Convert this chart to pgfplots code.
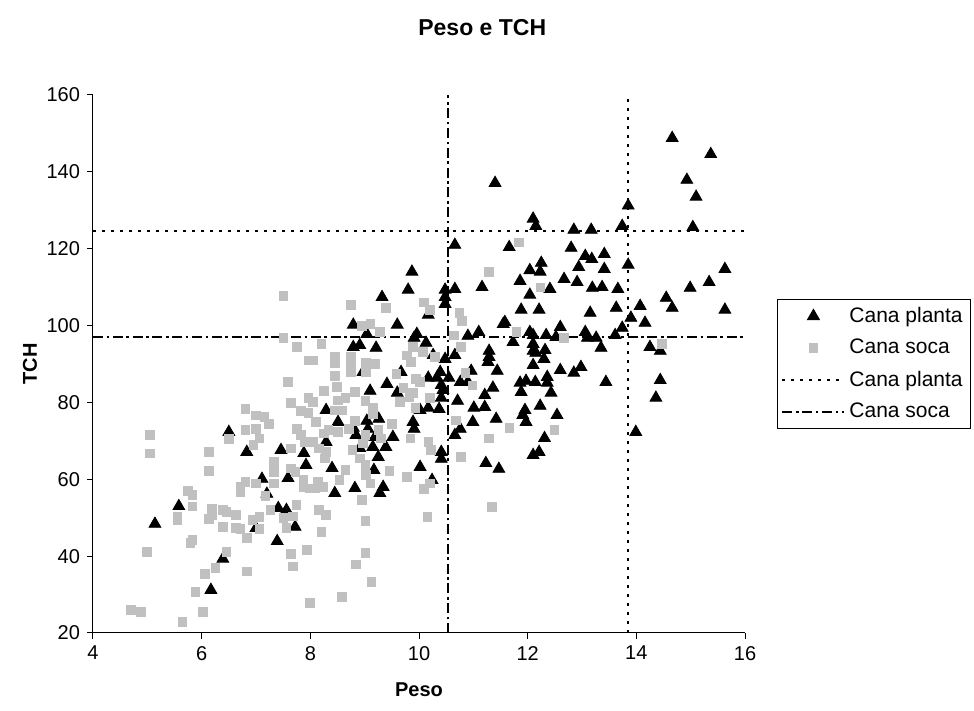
\documentclass[border=0pt]{standalone}
\usepackage{fontspec}
\setmainfont{Liberation Sans}
\usepackage{pgfplots}
\pgfplotsset{compat=1.18}
\definecolor{soca}{RGB}{192,192,192}
\begin{document}
\begin{tikzpicture}
\path[use as bounding box] (-46.5pt,-39pt) rectangle (440.5pt,316.5pt);
\begin{axis}[
  scale only axis, width=326pt, height=269pt,
  at={(0,0)}, anchor=south west,
  xmin=4, xmax=16, ymin=20, ymax=160,
  xtick={4,6,...,16}, ytick={20,40,...,160},
  axis x line=bottom, axis y line=left,
  axis line style={-, line width=0.5pt},
  tick align=outside, tick style={black, line width=0.5pt},
  major tick length=3pt,
  tick label style={font=\fontsize{10}{11}\selectfont},
  /pgf/number format/assume math mode=true,
  xlabel={\textbf{Peso}}, ylabel={\textbf{TCH}},
  label style={font=\fontsize{10}{11}\selectfont},
  xlabel style={at={(axis description cs:0.5,0)}, anchor=center, yshift=-28.5pt},
  ylabel style={at={(axis description cs:0,0.5)}, anchor=center, rotate=0, yshift=31.5pt},
  title={\textbf{Peso e TCH}},
  every axis title shift=0pt,
  title style={font=\fontsize{11.5}{12}\selectfont, at={(axis description cs:0.597,1.125)}, anchor=center, yshift=0pt},
  legend style={at={(1.049,0.5)}, anchor=west, draw=black, line width=0.5pt,
    font=\fontsize{10.5}{12}\selectfont, row sep=3pt, inner sep=2pt},
  legend cell align=left,
  legend image code/.code={\draw[mark repeat=2,mark phase=2] plot coordinates {(0pt,0pt) (15.5pt,0pt) (31pt,0pt)};},
  clip=false,
]
% Cana planta
\addplot[only marks, mark=triangle*, mark size=3.4pt, black, mark options={fill=black}] coordinates {
(14.66,148.8) (15.37,144.6) (14.93,137.9) (15.10,133.5) (13.85,131.2) (15.04,125.6) (13.74,125.9)
(12.85,124.9) (13.17,124.9) (12.15,125.9) (12.10,127.8) (12.80,120.2) (13.06,118.1) (13.18,117.3)
(13.41,118.6) (12.94,115.2) (13.41,114.7) (13.85,115.8) (15.63,114.7) (12.25,116.3) (12.23,114.0)
(11.40,137.1) (10.66,121.0) (11.66,120.4) (9.87,114.0) (12.04,114.4)
(6.50,72.3) (6.83,67.1) (7.46,67.6) (7.88,66.8)
(5.58,53.0) (5.14,48.4) (7.11,60.1) (7.59,60.3) (7.92,63.7) (7.20,56.2) (7.41,52.5) (7.56,52.0)
(7.72,47.6) (7.00,47.3) (7.39,43.9) (6.39,39.3) (6.17,31.2)
(8.45,56.4) (8.82,57.7) (9.28,56.4) (9.34,58.0) (10.24,59.8) (10.02,63.2) (10.41,65.3) (11.23,64.2)
(11.47,62.7) (9.17,62.4) (8.40,62.9) (9.25,65.8)
(9.80,109.3) (9.32,107.4) (10.48,109.3) (10.48,107.4) (10.66,109.5) (11.16,110.0) (11.86,111.6)
(12.04,108.0) (10.48,105.6) (10.17,102.8) (11.88,104.1) (11.58,100.9) (11.55,100.4) (8.79,100.2)
(9.60,100.2) (9.04,97.8) (9.96,97.8) (9.91,96.8) (10.13,95.5) (10.90,97.3) (11.10,98.3) (11.73,95.7)
(12.04,98.3) (8.79,94.4) (8.91,94.9) (9.21,94.2) (10.26,92.3) (10.48,91.3) (10.66,92.3) (11.29,93.4)
(11.29,91.8) (11.27,90.5) (12.10,93.4) (8.97,87.9) (9.67,87.9) (10.96,88.2) (11.44,88.2) (10.39,87.9)
(10.17,86.4) (10.33,86.4) (10.55,86.4) (10.76,85.3) (10.90,85.3) (10.41,84.5) (9.41,84.8) (10.44,83.2)
(9.60,82.5) (9.10,83.0) (10.41,81.2) (10.71,80.4) (11.21,81.9) (11.36,83.8) (11.86,85.1) (11.97,85.6)
(11.88,82.7) (8.29,78.0) (10.02,78.0) (10.17,78.6) (10.37,78.3) (11.01,78.6) (11.21,78.8) (11.95,78.0)
(8.51,74.9) (9.04,75.2) (9.26,75.7) (9.89,74.9) (10.99,74.9) (11.42,75.7) (11.91,76.7) (10.76,73.1)
(9.91,73.1) (8.79,73.4) (9.06,73.1) (10.66,71.5) (11.97,74.9) (8.84,71.5) (9.19,71.0) (9.52,71.0)
(8.29,69.7) (8.91,68.1) (9.15,68.4) (9.39,68.4) (10.41,67.1)
(12.67,112.1) (12.91,111.3) (13.19,109.8) (13.37,110.0) (13.66,109.5) (12.41,109.5) (14.99,109.8)
(15.34,111.3) (14.55,107.2) (14.66,104.6) (15.63,104.1) (14.07,105.1) (13.63,104.6) (13.15,103.3)
(12.21,104.1) (13.90,102.0) (14.16,100.7) (12.60,99.6) (13.06,98.3) (13.74,99.4) (12.34,97.5)
(12.52,97.0) (13.10,96.8) (13.26,96.8) (13.61,97.5) (12.10,97.5) (12.10,95.2) (12.32,93.6)
(12.15,92.9) (12.30,91.3) (13.35,94.2) (14.25,94.4) (14.44,93.4) (12.10,89.7) (12.60,88.4)
(12.98,89.2) (12.85,87.7) (12.36,86.6) (12.36,85.1) (12.14,85.3) (13.44,85.3) (12.43,82.5)
(14.44,85.8) (14.36,81.2) (12.23,79.1) (12.54,76.7) (12.31,70.7) (13.99,72.3) (12.21,67.1) (12.10,66.3)
};
\addlegendentry{Cana planta}
% Cana soca
\addplot[only marks, mark=square*, mark size=2.1pt, soca, mark options={fill=soca, draw=soca}] coordinates {
(11.84,121.7) (11.29,114.0)
(7.50,107.7) (7.50,96.8) (7.75,94.4) (7.96,91.0) (7.59,85.3) (7.64,79.9) (7.96,81.2) (7.83,77.8)
(7.96,77.3) (6.80,78.3) (7.00,76.7) (7.15,76.2) (7.24,74.4) (6.80,72.8) (7.00,73.1) (7.06,70.7)
(6.95,68.9) (6.50,70.5) (5.05,71.5) (7.75,73.1) (7.83,71.5) (7.90,69.7) (7.64,68.1) (6.13,67.1) (5.05,66.8)
(6.13,62.2) (5.75,57.0) (5.83,55.9) (5.83,53.0) (5.55,50.4) (5.55,49.4) (6.19,52.5) (6.19,50.7)
(6.13,49.7) (6.39,52.0) (6.45,51.5) (6.63,50.7) (6.71,58.0) (6.80,59.3) (6.71,56.7) (7.00,59.0)
(7.33,64.5) (7.33,61.9) (7.33,59.0) (7.64,62.9) (7.72,61.9) (7.87,59.8) (7.87,58.0) (7.99,57.7)
(7.17,55.7) (7.26,52.0) (7.74,53.3) (7.50,49.9) (7.56,47.3) (7.68,50.4) (6.93,49.4) (7.06,50.2)
(7.06,47.1) (6.39,47.6) (6.63,47.3) (6.71,47.1) (6.83,44.7) (7.64,40.6) (7.68,37.4) (7.94,41.6)
(5.79,43.4) (5.83,44.2) (4.99,41.1) (6.45,41.1) (6.25,36.9) (6.06,35.4) (6.83,36.1) (5.88,30.7)
(4.70,26.0) (4.88,25.5) (6.02,25.5) (5.64,22.9) (7.99,27.8)
(8.58,29.4) (9.12,33.3) (8.84,37.9) (9.01,40.8) (8.20,46.3) (9.01,49.2) (8.16,52.0) (8.29,50.7)
(8.95,54.6) (10.15,50.2) (11.34,52.8) (9.10,59.0) (9.02,61.1) (9.45,62.2) (9.78,60.6) (10.09,57.5)
(10.20,59.0) (10.77,65.8) (8.64,62.4) (8.53,59.8) (8.14,59.3) (8.23,58.0) (8.09,57.7) (8.27,65.5)
(8.91,65.5) (9.01,63.7)
(8.75,105.4) (9.39,104.6) (10.09,106.1) (10.20,104.1) (10.74,103.3) (10.79,101.2) (8.95,99.9)
(9.10,100.4) (9.28,98.3) (10.64,97.5) (11.79,98.3) (8.20,95.2) (9.89,94.4) (10.07,93.1) (10.77,94.4)
(9.78,92.3) (9.85,90.5) (10.29,91.8) (8.45,91.8) (8.45,90.3) (8.75,91.8) (8.75,90.3) (9.02,90.3)
(9.19,90.0) (8.05,91.0) (8.75,87.9) (9.02,87.9) (9.58,87.4) (10.85,87.7) (8.45,86.9) (10.98,84.5)
(9.94,86.1) (10.02,85.3) (9.71,83.8) (8.49,84.0) (8.25,83.0) (8.82,82.7) (9.89,82.5) (9.82,81.4)
(8.64,81.2) (8.51,80.6) (9.01,80.4) (10.20,81.2) (9.65,80.1) (8.45,78.0) (8.58,78.0) (9.15,78.6)
(9.93,78.6) (8.05,80.1) (9.15,77.0) (8.10,74.9) (8.82,75.2) (9.50,74.4) (10.68,75.4) (8.33,72.8)
(8.51,72.3) (8.71,73.1) (9.25,72.8) (11.66,73.4) (8.25,72.0) (9.01,71.5) (9.30,70.7) (9.84,70.7)
(11.29,70.7) (8.05,69.7) (8.97,69.4) (10.17,69.7) (10.22,67.6) (8.16,68.1) (8.77,67.6) (8.29,67.1)
(12.23,110.0) (12.67,96.8) (14.47,95.2) (12.49,72.8)
};
\addlegendentry{Cana soca}
% reference lines, Cana planta (dotted)
\addplot[black, line width=1pt, dash pattern=on 1.5pt off 3pt] coordinates {(4,124.6) (16,124.6)};
\addlegendentry{Cana planta}
\addplot[black, line width=1pt, dash pattern=on 1.5pt off 3pt, forget plot] coordinates {(13.85,20) (13.85,160)};
% reference lines, Cana soca (dash-dot)
\addplot[black, line width=1pt, dash pattern=on 5pt off 1.8pt on 1.3pt off 1.8pt] coordinates {(4,97.0) (16,97.0)};
\addlegendentry{Cana soca}
\addplot[black, line width=1pt, dash pattern=on 5pt off 1.8pt on 1.3pt off 1.8pt, forget plot] coordinates {(10.53,20) (10.53,160)};
\end{axis}
\end{tikzpicture}
\end{document}
